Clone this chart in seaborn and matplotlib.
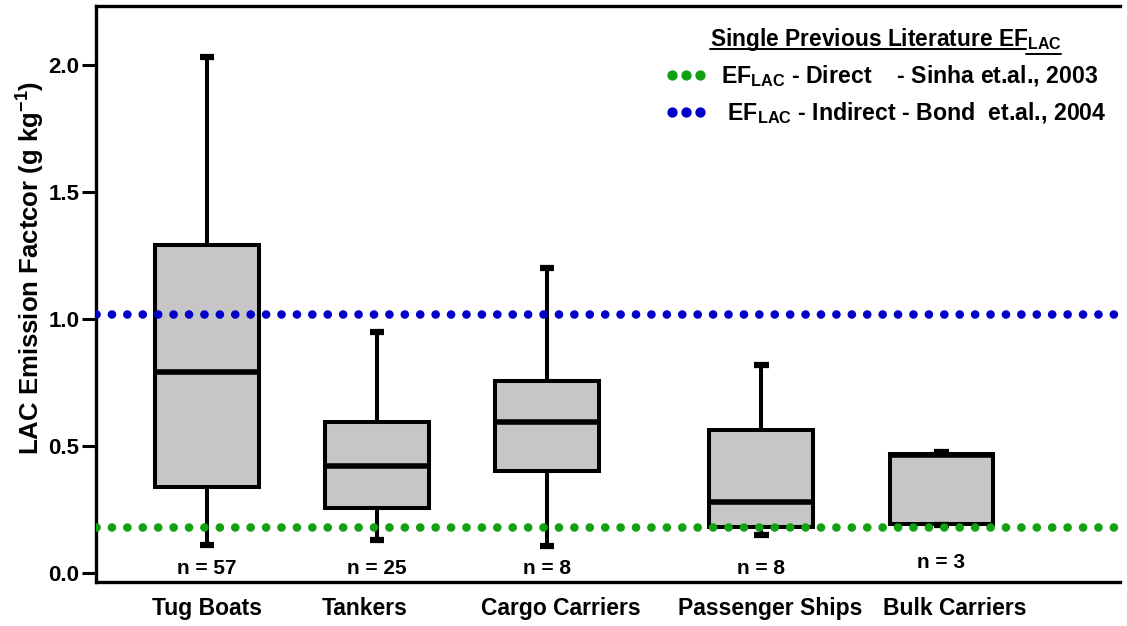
import matplotlib
matplotlib.use("Agg")
import matplotlib.pyplot as plt
from matplotlib.lines import Line2D
import seaborn as sns

# Ship categories and summary statistics of the LAC emission factor (g/kg)
categories = ["Tug Boats", "Tankers", "Cargo Carriers", "Passenger Ships", "Bulk Carriers"]
sample_sizes = [57, 25, 8, 8, 3]
whisker_low = [0.11, 0.13, 0.105, 0.15, 0.19]
quartile_1 = [0.34, 0.255, 0.40, 0.18, 0.195]
medians = [0.79, 0.42, 0.595, 0.28, 0.465]
quartile_3 = [1.29, 0.595, 0.755, 0.565, 0.47]
whisker_high = [2.03, 0.95, 1.20, 0.82, 0.475]

# Literature reference values
ef_direct_sinha = 0.18
ef_indirect_bond = 1.02

sns.set_theme(style="ticks")
plt.rcParams["font.family"] = ["Liberation Sans", "DejaVu Sans"]
plt.rcParams["mathtext.fontset"] = "custom"
plt.rcParams["mathtext.bf"] = "Liberation Sans:bold"
plt.rcParams["mathtext.rm"] = "Liberation Sans"
plt.rcParams["mathtext.default"] = "bf"
plt.rcParams["axes.unicode_minus"] = False
for key in ["text.color", "axes.labelcolor", "xtick.color", "ytick.color",
            "axes.edgecolor"]:
    plt.rcParams[key] = "black"

fig = plt.figure(figsize=(11.27, 6.26), dpi=100)
ax = fig.add_axes([0.0852, 0.0703, 0.9086, 0.9201])

box_pos = [0.0, 1.0, 2.0, 3.26, 4.32]
label_pos = [0.0, 0.93, 2.08, 3.31, 4.40]

stats = [
    dict(whislo=lo, q1=a, med=m, q3=b, whishi=hi, label=c)
    for lo, a, m, b, hi, c in zip(whisker_low, quartile_1, medians,
                                  quartile_3, whisker_high, categories)
]
ax.bxp(
    stats, positions=box_pos, widths=0.61, capwidths=0.085,
    showfliers=False, patch_artist=True,
    boxprops=dict(facecolor="#c6c6c6", edgecolor="black", linewidth=2.9),
    medianprops=dict(color="black", linewidth=4.0, solid_capstyle="butt"),
    whiskerprops=dict(color="black", linewidth=2.9),
    capprops=dict(color="black", linewidth=4.5, solid_capstyle="butt"),
)

# Dotted literature reference lines
dot_style = dict(linewidth=6.2, linestyle=(0, (0.01, 1.78)),
                 dash_capstyle="round", zorder=3)
ax.axhline(ef_direct_sinha, color="#13a013", **dot_style)
ax.axhline(ef_indirect_bond, color="#0000c8", **dot_style)

# Sample size annotations
n_y = [0.02, 0.02, 0.02, 0.02, 0.043]
for x, n, y in zip(box_pos, sample_sizes, n_y):
    ax.text(x, y, f"n = {n}", ha="center", va="center",
            fontsize=15, fontweight="bold")

ax.set_xlim(-0.653, 5.37)
ax.set_ylim(-0.035, 2.232)
ax.set_xticks(label_pos)
ax.set_xticklabels(categories, fontsize=16.5, fontweight="bold")
ax.tick_params(axis="x", length=0, pad=11)
ax.set_yticks([0.0, 0.5, 1.0, 1.5, 2.0])
ax.set_yticklabels(["0.0", "0.5", "1.0", "1.5", "2.0"], fontsize=16, fontweight="bold")
ax.tick_params(axis="y", length=10, width=2.2, pad=2)
ax.set_ylabel("LAC Emission Factcor (g kg$^{\\mathregular{-1}}$)",
              fontsize=18.5, fontweight="bold")
ax.yaxis.set_label_coords(-0.048, 0.545)

for side in ["left", "bottom", "top"]:
    ax.spines[side].set_linewidth(2.4)
ax.spines["right"].set_visible(False)
ax.grid(False)

handles = [
    Line2D([], [], linestyle="none", marker="o", markersize=6.4,
           color="#13a013"),
    Line2D([], [], linestyle="none", marker="o", markersize=6.4,
           color="#0000c8"),
]
labels = [
    "EF$_{LAC}$ - Direct    - Sinha et.al., 2003",
    " EF$_{LAC}$ - Indirect - Bond  et.al., 2004",
]
leg = ax.legend(
    handles, labels, numpoints=3, handlelength=1.8, handletextpad=0.6,
    frameon=False, loc="upper right", bbox_to_anchor=(1.0, 0.989),
    title="Single Previous Literature EF$_{LAC}$",
    prop=dict(size=16.7, weight="bold"), labelspacing=0.45,
    borderaxespad=0.2,
)
leg.get_title().set_fontsize(16.4)
leg.get_title().set_fontweight("bold")

# Underline the legend title
fig.canvas.draw()
renderer = fig.canvas.get_renderer()
title = leg.get_title()
tb = title.get_window_extent(renderer)
probe = fig.text(0, 0, "Single Previous Literature EF", fontsize=16.4,
                 fontweight="bold")
main_w = probe.get_window_extent(renderer).width
probe.remove()
W, H = fig.bbox.width, fig.bbox.height
fs_px = 16.4 * fig.dpi / 72
y_main = tb.y0 + 0.2 * fs_px
y_sub = tb.y0 - 1
fig.add_artist(Line2D([tb.x0 / W, (tb.x0 + main_w) / W], [y_main / H, y_main / H],
                      color="black", linewidth=1.4))
fig.add_artist(Line2D([(tb.x0 + main_w) / W, tb.x1 / W], [y_sub / H, y_sub / H],
                      color="black", linewidth=1.4))

fig.savefig("out.png", dpi=100, facecolor="white")
